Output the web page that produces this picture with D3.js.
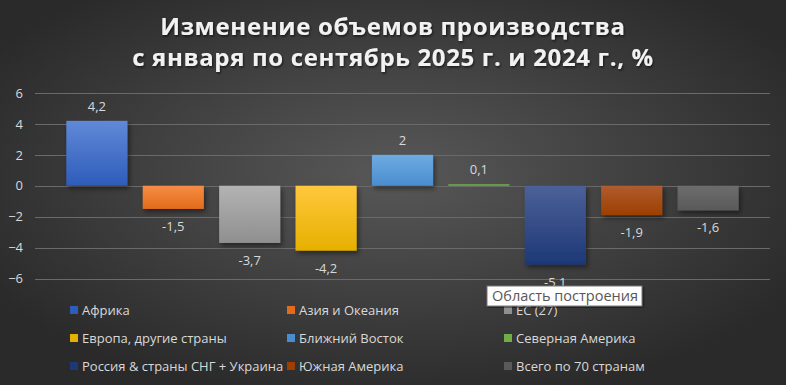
<!DOCTYPE html>
<meta charset="utf-8">
<style>
	body {
		margin: 0;
		background: #2e2e2e;
	}
	svg text {
		font-family: "Open Sans", "Noto Sans", sans-serif;
	}
</style>
<body>
<script src="https://d3js.org/d3.v7.min.js"></script>
<script>
	var series = ["Африка", "Азия и Океания", "ЕС (27)", "Европа, другие страны", "Ближний Восток",
		"Северная Америка", "Россия & страны СНГ + Украина", "Южная Америка", "Всего по 70 странам"];
	var values = [4.2, -1.5, -3.7, -4.2, 2, 0.1, -5.1, -1.9, -1.6];
	var yTicks = [6, 4, 2, 0, -2, -4, -6];
	var titleLines = ["Изменение объемов производства", "с января по сентябрь 2025 г. и 2024 г., %"];
	// top / bottom colour of each bar's gradient
	var colorsTop = ["#6189d8", "#f68d45", "#b3b3b3", "#ffc83d", "#6eabe2", "#70ad47", "#4c6198", "#b05c30", "#6d6d6d"];
	var colorsBot = ["#2d5cb9", "#e36b1b", "#8f8f8f", "#e6b000", "#4a8dcf", "#70ad47", "#1d3877", "#9d3f00", "#595959"];

	var width = 786, height = 385;

	var svg = d3.select("body").append("svg")
		.attr("width", width)
		.attr("height", height);

	var defs = svg.append("defs");

	var bg = defs.append("radialGradient")
		.attr("id", "bg")
		.attr("cx", "50%").attr("cy", "45%").attr("r", "60%");
	bg.append("stop").attr("offset", "0%").attr("stop-color", "#585858");
	bg.append("stop").attr("offset", "100%").attr("stop-color", "#2a2a2a");

	series.forEach(function(s, i) {
		var g = defs.append("linearGradient")
			.attr("id", "g" + i)
			.attr("x1", 0).attr("y1", 0).attr("x2", 0).attr("y2", 1);
		g.append("stop").attr("offset", "0%").attr("stop-color", colorsTop[i]);
		g.append("stop").attr("offset", "100%").attr("stop-color", colorsBot[i]);
	});

	var shadow = defs.append("filter")
		.attr("id", "shadow")
		.attr("x", "-20%").attr("y", "-20%").attr("width", "150%").attr("height", "150%");
	shadow.append("feDropShadow")
		.attr("dx", 2).attr("dy", 3).attr("stdDeviation", 2.5)
		.attr("flood-color", "#000").attr("flood-opacity", 0.45);

	var tshadow = defs.append("filter").attr("id", "tshadow");
	tshadow.append("feDropShadow")
		.attr("dx", 1).attr("dy", 1.5).attr("stdDeviation", 1)
		.attr("flood-color", "#000").attr("flood-opacity", 0.6);

	svg.append("rect")
		.attr("width", width)
		.attr("height", height)
		.attr("fill", "url(#bg)");

	// title
	svg.append("g")
		.attr("filter", "url(#tshadow)")
		.selectAll("text")
		.data(titleLines)
		.enter().append("text")
		.attr("x", 393)
		.attr("y", function(d, i) { return 35 + i * 31; })
		.attr("text-anchor", "middle")
		.attr("fill", "#f2f2f2")
		.style("font-size", "24px")
		.style("font-weight", "bold")
		.style("letter-spacing", "0.65px")
		.text(function(d) { return d; });

	var x = d3.scaleBand()
		.domain(series)
		.range([35, 770])
		.paddingInner(0.2)
		.paddingOuter(0.41);

	var y = d3.scaleLinear()
		.domain([-6, 6])
		.range([278.5, 93]);

	// gridlines
	svg.append("g")
		.selectAll("line")
		.data(yTicks)
		.enter().append("line")
		.attr("x1", 35)
		.attr("x2", 770)
		.attr("y1", function(d) { return Math.round(y(d)) + 0.5; })
		.attr("y2", function(d) { return Math.round(y(d)) + 0.5; })
		.attr("stroke", "#6a6a6a")
		.attr("stroke-width", 1);

	var yAxis = d3.axisLeft(y)
		.tickValues(yTicks)
		.tickSize(0)
		.tickPadding(0);

	var ay = svg.append("g")
		.attr("transform", "translate(23,0)")
		.call(yAxis);
	ay.select(".domain").remove();
	ay.selectAll("text")
		.attr("fill", "#d9d9d9")
		.style("font-size", "13px");

	// bars
	svg.append("g")
		.selectAll("rect")
		.data(values)
		.enter().append("rect")
		.attr("x", function(d, i) { return x(series[i]); })
		.attr("width", x.bandwidth())
		.attr("y", function(d) { return y(Math.max(0, d)); })
		.attr("height", function(d) { return Math.max(1.5, Math.abs(y(d) - y(0))); })
		.attr("fill", function(d, i) { return "url(#g" + i + ")"; })
		.attr("filter", function(d) { return Math.abs(d) > 0.5 ? "url(#shadow)" : null; });

	// value labels
	svg.append("g")
		.selectAll("text")
		.data(values)
		.enter().append("text")
		.attr("x", function(d, i) { return x(series[i]) + x.bandwidth() / 2; })
		.attr("y", function(d) { return d >= 0 ? y(d) - 10 : y(d) + 22; })
		.attr("text-anchor", "middle")
		.attr("fill", "#d9d9d9")
		.style("font-size", "13px")
		.text(function(d) { return String(d).replace(".", ","); });

	// legend, 3 columns
	var legend = svg.append("g")
		.selectAll("g")
		.data(series)
		.enter().append("g")
		.attr("transform", function(d, i) {
			return "translate(" + [70, 287, 504][i % 3] + "," + (310 + Math.floor(i / 3) * 28) + ")";
		});
	legend.append("rect")
		.attr("x", 0).attr("y", -4)
		.attr("width", 8).attr("height", 8)
		.attr("fill", function(d, i) { return colorsBot[i]; });
	legend.append("text")
		.attr("x", 12)
		.attr("y", 4.5)
		.attr("fill", "#d9d9d9")
		.style("font-size", "13px")
		.text(function(d) { return d; });

	// hover tooltip seen in the original screenshot
	var tip = svg.append("g").attr("transform", "translate(487,286)");
	tip.append("rect")
		.attr("width", 155).attr("height", 20)
		.attr("fill", "#ffffff")
		.attr("stroke", "#767676")
		.attr("filter", "url(#tshadow)");
	tip.append("text")
		.attr("x", 5).attr("y", 15)
		.attr("fill", "#575757")
		.style("font-size", "14.5px")
		.text("Область построения");
</script>
